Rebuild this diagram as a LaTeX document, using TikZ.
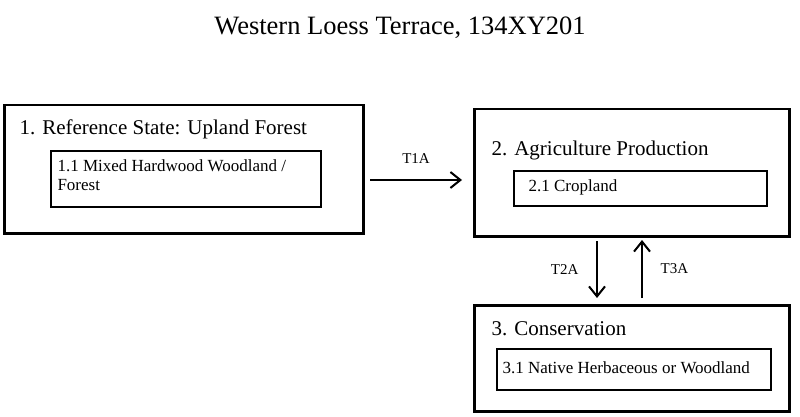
\documentclass[tikz,border=0pt]{standalone}
\usepackage{fontspec}
\setmainfont{Liberation Serif}
\usetikzlibrary{positioning,arrows.meta}
\tikzset{
  statebox/.style={draw,line width=2.5pt,anchor=north west,inner sep=0pt},
  phasebox/.style={draw,line width=1.5pt,anchor=north west,inner sep=0pt},
  statelabel/.style={anchor=west,font=\fontsize{21}{24}\selectfont},
  phaselabel/.style={font=\fontsize{17}{19}\selectfont},
  trans/.style={-{Straight Barb[length=10pt,width=16pt,line width=2pt]},line width=2.5pt}
}
\begin{document}
\begin{tikzpicture}[x=1pt,y=-1pt]
   \useasboundingbox (0,0) rectangle (800,417);
   \node (title) at (400,28) {\fontsize{26.5}{30}\selectfont Western Loess Terrace, 134XY201};
   % states
   \node[statebox,minimum width=359pt,minimum height=128pt] (s_1) at (3,104) {};
   \node[statebox,minimum width=315pt,minimum height=127pt] (s_2) at (473,108) {};
   \node[statebox,minimum width=315pt,minimum height=106pt] (s_3) at (473,304) {};
   \node[statelabel] (l_1) at (16,129) {1. Reference State: Upland Forest};
   \node[statelabel] (l_2) at (488,150) {2. Agriculture Production};
   \node[statelabel] (l_3) at (488,329) {3. Conservation};
   % phases
   \node[phasebox,minimum width=270pt,minimum height=56pt] (p_1) at (50,150) {};
   \node[phaselabel,anchor=north west,align=left] at (54,156) {1.1 Mixed Hardwood Woodland /\\Forest};
   \node[phasebox,minimum width=253pt,minimum height=35pt] (p_2) at (513,170) {};
   \node[phaselabel,anchor=west] at (525,187) {2.1 Cropland};
   \node[phasebox,minimum width=274pt,minimum height=41pt] (p_3) at (496,348) {};
   \node[phaselabel,anchor=west] at (499,368) {3.1 Native Herbaceous or Woodland};
   % transitions
   \coordinate (t1a_s) at (370,180);
   \coordinate (t1a_e) at (462,180);
   \draw[trans] (t1a_s) -- node[above=12pt,font=\fontsize{15}{18}\selectfont] {T1A} (t1a_e);
   \coordinate (t2a_s) at (597,241);
   \coordinate (t2a_e) at (597,298);
   \draw[trans] (t2a_s) -- node[left=14pt,font=\fontsize{15}{18}\selectfont] {T2A} (t2a_e);
   \coordinate (t3a_s) at (642,298);
   \coordinate (t3a_e) at (642,240);
   \draw[trans] (t3a_s) -- node[right=14pt,font=\fontsize{15}{18}\selectfont] {T3A} (t3a_e);
\end{tikzpicture}
\end{document}
